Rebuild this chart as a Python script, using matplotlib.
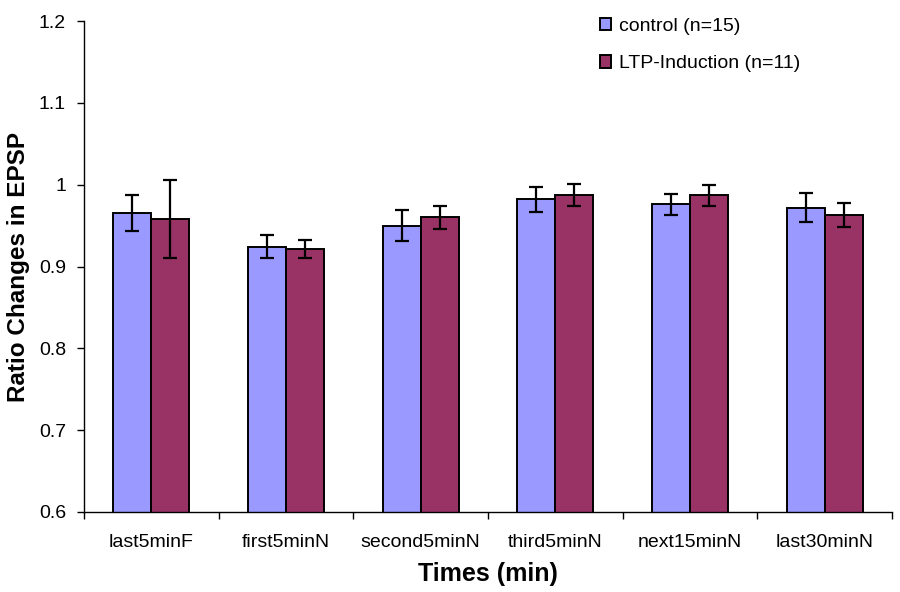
import numpy as np
import matplotlib.pyplot as plt
from matplotlib.patches import Patch

plt.rcParams['font.family'] = ['Liberation Sans', 'DejaVu Sans']

# values
categories = ["last5minF", "first5minN", "second5minN", "third5minN", "next15minN", "last30minN"]
control = [0.965, 0.924, 0.950, 0.982, 0.976, 0.972]
control_err = [0.022, 0.014, 0.019, 0.015, 0.0125, 0.018]
ltp = [0.958, 0.921, 0.960, 0.987, 0.987, 0.963]
ltp_err = [0.048, 0.011, 0.014, 0.0135, 0.0125, 0.0145]
yticks = [0.6, 0.7, 0.8, 0.9, 1.0, 1.1, 1.2]
yticklabels = ["0.6", "0.7", "0.8", "0.9", "1", "1.1", "1.2"]

c_col = "#9999FF"
l_col = "#993366"

fig = plt.figure(figsize=(9, 5.92), dpi=100)
ax = fig.add_axes([84/900, 1-512/592, 808/900, 491/592])

x = np.arange(len(categories))
w = 0.283
ekw = dict(elinewidth=1.6, capsize=4.8, capthick=1.6, ecolor="black")
ax.bar(x - w/2, control, w, yerr=control_err, color=c_col, edgecolor="black",
       linewidth=1.4, error_kw=ekw, zorder=2)
ax.bar(x + w/2, ltp, w, yerr=ltp_err, color=l_col, edgecolor="black",
       linewidth=1.4, error_kw=ekw, zorder=2)

ax.set_xlim(-0.5, len(categories) - 0.5)
ax.set_ylim(0.6, 1.2)
ax.set_yticks(yticks)
ax.set_yticklabels(yticklabels, fontsize=14)
ax.set_xticks(x)
ax.set_xticklabels(categories, fontsize=14)
ax.set_xticks(np.arange(-0.5, len(categories), 1), minor=True)
ax.tick_params(axis="x", which="major", length=0, pad=16)
ax.tick_params(axis="x", which="minor", length=5, width=1)
ax.tick_params(axis="y", length=5, width=1, pad=8)

for s in ["top", "right"]:
    ax.spines[s].set_visible(False)
for s in ["left", "bottom"]:
    ax.spines[s].set_linewidth(1)

ax.set_xlabel("Times (min)", fontsize=18, fontweight="bold", labelpad=8)
ax.set_ylabel("Ratio Changes in EPSP", fontsize=17.5, fontweight="bold", labelpad=6)

handles = [Patch(facecolor=c_col, edgecolor="black", linewidth=1.4),
           Patch(facecolor=l_col, edgecolor="black", linewidth=1.4)]
fig.legend(handles, ["control (n=15)", "LTP-Induction (n=11)"],
           loc="upper left", bbox_to_anchor=(590/900, 1-8/592),
           frameon=False, fontsize=14, handlelength=0.6, handleheight=0.6,
           handletextpad=0.4, labelspacing=1.05, borderpad=0)

fig.savefig("out.png", dpi=100)
